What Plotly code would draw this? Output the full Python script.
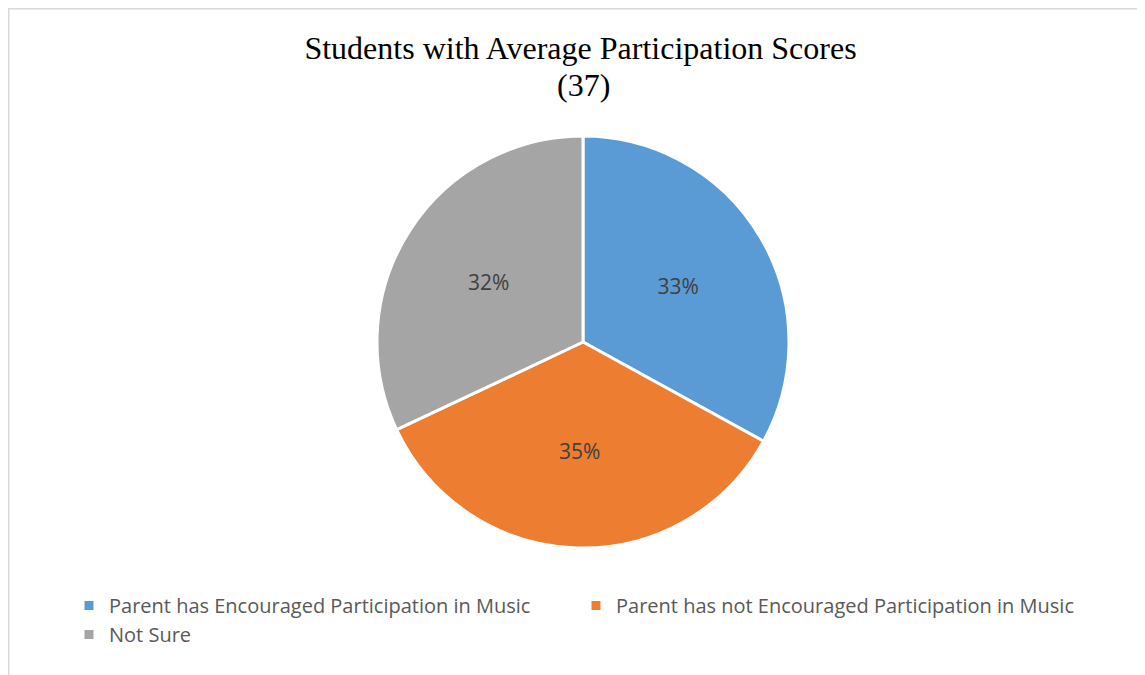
import plotly.graph_objects as go

labels = ["Parent has Encouraged Participation in Music",
          "Parent has not Encouraged Participation in Music",
          "Not Sure"]
values = [33, 35, 32]
colors = ["#5B9BD5", "#ED7D31", "#A5A5A5"]
title_line1 = "Students with Average Participation Scores"
title_line2 = "(37)"

W, H = 1145, 675
L, R, T, B = 20, 20, 128, 135
pw, ph = W - L - R, H - T - B
cx, rad = 575, 206

fig = go.Figure(go.Pie(
    labels=labels, values=values, sort=False, direction="clockwise", rotation=0,
    domain=dict(x=[(cx - rad - L) / pw, (cx + rad - L) / pw], y=[0, 1]),
    marker=dict(colors=colors, line=dict(color="white", width=3)),
    texttemplate="%{value}%", textposition="inside", insidetextorientation="horizontal",
    textfont=dict(family="Open Sans", size=21, color="#404040"),
    hoverinfo="label+percent",
))

fig.update_layout(
    width=W, height=H,
    margin=dict(l=L, r=R, t=T, b=B, autoexpand=False),
    paper_bgcolor="white",
    title=dict(text=title_line1, x=0.5, xanchor="center", xref="container",
               y=1 - 40 / H, yanchor="middle", yref="container",
               font=dict(family="Liberation Serif", size=32, color="black")),
    annotations=[dict(text=title_line2, x=(cx - L) / pw, xref="paper", xanchor="center",
                      y=(H - B - 77) / ph, yref="paper", yanchor="middle",
                      showarrow=False,
                      font=dict(family="Liberation Serif", size=32, color="black"))],
    legend=dict(orientation="h", xref="container", yref="container",
                x=61 / W, xanchor="left", y=1 - 578 / H, yanchor="top",
                entrywidth=462, entrywidthmode="pixels",
                font=dict(family="Open Sans", size=20, color="#595959"),
                bgcolor="rgba(0,0,0,0)"),
    shapes=[dict(type="rect", xref="paper", yref="paper",
                 x0=(0.75 - L) / pw, x1=(W + 20 - L) / pw,
                 y0=-(B + 20) / ph, y1=1 + (T - 0.75) / ph,
                 line=dict(color="#D9D9D9", width=1.5), fillcolor="rgba(0,0,0,0)",
                 layer="below")],
)

fig.write_html("out.html")
